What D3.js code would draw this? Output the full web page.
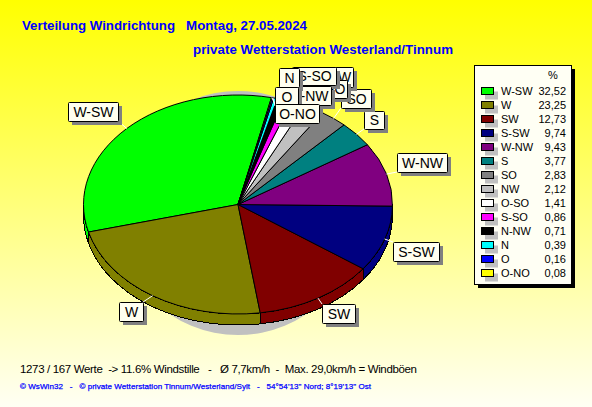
<!DOCTYPE html>
<html><head><meta charset="utf-8">
<script src="https://cdnjs.cloudflare.com/ajax/libs/d3/7.8.5/d3.min.js"></script>
<style>html,body{margin:0;padding:0;overflow:hidden;background:#fff}svg{display:block}text{font-family:"Liberation Sans",Arial,sans-serif;white-space:pre}</style>
</head><body><svg id="c" width="592" height="407"></svg>
<script>
const categories=["W-SW","W","SW","S-SW","W-NW","S","SO","NW","O-SO","S-SO","N-NW","N","O","O-NO"];
const percents=[32.52,23.25,12.73,9.74,9.43,3.77,2.83,2.12,1.41,0.86,0.71,0.39,0.16,0.08];
const percentLabels=["32,52","23,25","12,73","9,74","9,43","3,77","2,83","2,12","1,41","0,86","0,71","0,39","0,16","0,08"];
const colors=["#00ff00","#808000","#800000","#000080","#800080","#008080","#808080","#c0c0c0","#ffffff","#ff00ff","#000000","#00ffff","#0000ff","#ffff00"];
// hand-placed callout boxes: left, top, right, bottom
const calloutBoxes=[[68,102,118,121],[119,302,143,321],[322,304,355,323],[393,242,439,261],[397,153,447,172],[364,111,384,129],[341,89,371,108],[325,67,353,87],[307,80,347,98],[292,67,336,85],[287,86,331,105],[279,68,299,87],[275,87,298,106],[275,104,319,123]];
const title1="Verteilung Windrichtung   Montag, 27.05.2024";
const title2="private Wetterstation Westerland/Tinnum";
const stats="1273 / 167 Werte  -> 11.6% Windstille   -   Ø 7,7km/h  -  Max. 29,0km/h = Windböen";
const credit="© WsWin32   -   © private Wetterstation Tinnum/Westerland/Sylt   -   54°54'13\" Nord; 8°19'13\" Ost";

const svg=d3.select("#c"),W=592,H=407;
const grad=svg.append("defs").append("linearGradient").attr("id","bg").attr("x1",0).attr("x2",0).attr("y1",0).attr("y2",1);
grad.append("stop").attr("offset",0).attr("stop-color","#ffff00");
grad.append("stop").attr("offset",1).attr("stop-color","#fffff4");
svg.append("rect").attr("width",W).attr("height",H).attr("fill","url(#bg)");

const blue="#0000ff";
svg.append("text").attr("x",22).attr("y",30).attr("font-size",13.3).attr("font-weight","bold").attr("fill",blue).attr("textLength",285).attr("lengthAdjust","spacing").text(title1);
svg.append("text").attr("x",193).attr("y",54).attr("font-size",13.3).attr("font-weight","bold").attr("fill",blue).attr("textLength",260).attr("lengthAdjust","spacing").text(title2);
svg.append("text").attr("x",20).attr("y",373).attr("font-size",11.5).attr("fill","#000").attr("textLength",397).attr("lengthAdjust","spacing").text(stats);
svg.append("text").attr("x",20).attr("y",389).attr("font-size",8).attr("fill",blue).attr("stroke",blue).attr("stroke-width",.25).attr("textLength",351).attr("lengthAdjust","spacing").text(credit);

// pie geometry
const cx=238,cy=204.5,rx=154.5,ry=109.5,depth=11;
const start=12.5*Math.PI/180;
const pie=d3.pie().sort(null).startAngle(start).endAngle(start-2*Math.PI);
const arcs=pie(percents).map((a,i)=>({...a,i}));
const px=a=>cx+rx*Math.sin(a), py=a=>cy-ry*Math.cos(a);

// ground shadow
svg.append("circle").attr("cx",cx).attr("cy",213).attr("r",122).attr("fill","#c0c0c0");

// wall: part of each slice on the lower half of the rim
const g=svg.append("g").attr("shape-rendering","crispEdges");
const lowA=-3*Math.PI/2, lowB=-Math.PI/2;
arcs.forEach(d=>{
  const a0=Math.max(d.endAngle,lowA), a1=Math.min(d.startAngle,lowB);
  if(a1<=a0) return;
  const p=`M${px(a0)},${py(a0)}A${rx},${ry} 0 0 1 ${px(a1)},${py(a1)}L${px(a1)},${py(a1)+depth}A${rx},${ry} 0 0 0 ${px(a0)},${py(a0)+depth}Z`;
  g.append("path").attr("d",p).attr("fill",colors[d.i]).attr("stroke","#000");
});

// top face
const arcGen=d3.arc().innerRadius(0).outerRadius(rx);
g.append("g").attr("transform",`translate(${cx},${cy}) scale(1,${ry/rx})`)
 .selectAll("path").data(arcs).join("path")
 .attr("d",arcGen).attr("fill",d=>colors[d.i]).attr("stroke","#000").attr("stroke-width",1)
 .attr("vector-effect","non-scaling-stroke");

// callouts
const call=svg.append("g");
arcs.forEach(d=>{
  const [l,t,r,b]=calloutBoxes[d.i], m=(d.startAngle+d.endAngle)/2, x0=px(m), y0=py(m);
  const corner=[[l,t],[r,t],[l,b],[r,b]].sort((p,q)=>Math.hypot(p[0]-x0,p[1]-y0)-Math.hypot(q[0]-x0,q[1]-y0))[0];
  call.append("line").attr("x1",x0).attr("y1",y0).attr("x2",corner[0]).attr("y2",corner[1]).attr("stroke","#fff");
});
arcs.forEach(d=>{
  const [l,t,r,b]=calloutBoxes[d.i];
  const c=call.append("g");
  c.append("rect").attr("x",l+4).attr("y",t+4).attr("width",r-l).attr("height",b-t).attr("fill","#808080");
  c.append("rect").attr("x",l+.5).attr("y",t+.5).attr("width",r-l).attr("height",b-t).attr("rx",1).attr("fill","#fffff0").attr("stroke","#000");
  c.append("text").attr("x",(l+r)/2+.5).attr("y",(t+b)/2+5).attr("text-anchor","middle").attr("font-size",14).attr("fill","#000").text(categories[d.i]);
});

// legend
const lg=svg.append("g");
lg.append("rect").attr("x",478).attr("y",69).attr("width",97).attr("height",219).attr("fill","#000");
lg.append("rect").attr("x",474.5).attr("y",65.5).attr("width",97).attr("height",219).attr("fill","#fffff4").attr("stroke","#000");
lg.append("text").attr("x",553).attr("y",79).attr("text-anchor","middle").attr("font-size",11).text("%");
const rowY=d3.scalePoint().domain(categories).range([91,273]);
categories.forEach((c,i)=>{
  const y=rowY(c);
  lg.append("rect").attr("x",485).attr("y",y+.5).attr("width",13).attr("height",8).attr("fill","#c0c0c0");
  lg.append("rect").attr("x",481.5).attr("y",y-3.5).attr("width",12).attr("height",7).attr("fill",colors[i]).attr("stroke","#000");
  lg.append("text").attr("x",501).attr("y",y+4).attr("font-size",11).text(c);
  lg.append("text").attr("x",566).attr("y",y+4).attr("text-anchor","end").attr("font-size",11).text(percentLabels[i]);
});
</script></body></html>
